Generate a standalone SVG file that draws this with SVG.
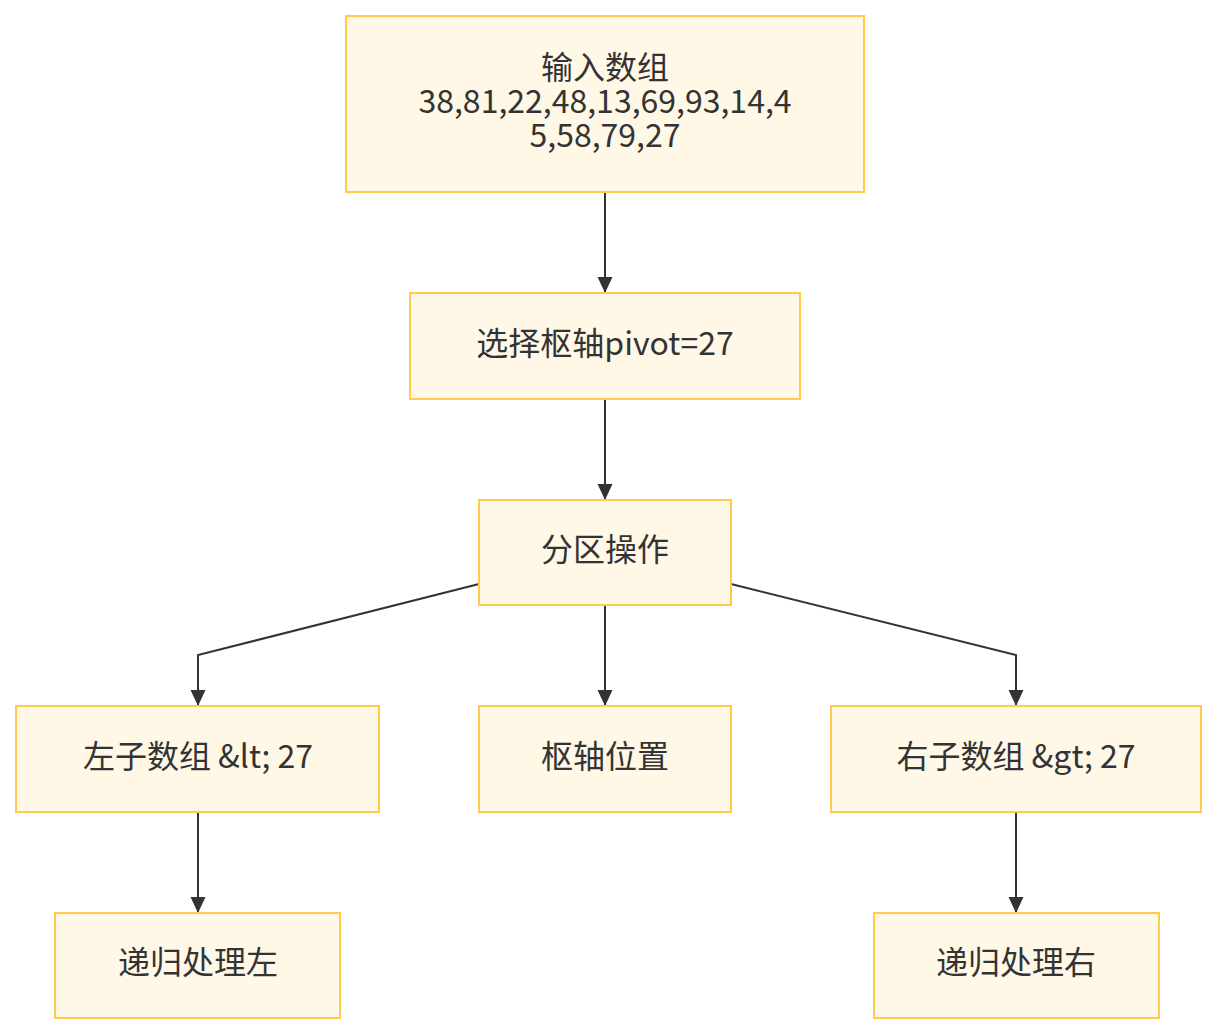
<svg xmlns="http://www.w3.org/2000/svg" width="1218" height="1036" viewBox="0 0 1218 1036">
<style>
.n rect{fill:#fff8e6;stroke:#ffcb4c;stroke-width:2}
.n text{font-family:"Noto Sans CJK SC","Noto Sans",sans-serif;font-size:32px;fill:#333;text-anchor:middle;dominant-baseline:central}
.e path{fill:none;stroke:#333;stroke-width:2}
</style>
<defs>
<marker id="a" viewBox="0 0 16 16" refX="16" refY="8" markerWidth="16" markerHeight="16" markerUnits="userSpaceOnUse" orient="auto">
<path d="M0,0.5 L16,8 L0,15.5 z" fill="#333"/>
</marker>
</defs>
<g class="e">
<path d="M605,193 L605,293" marker-end="url(#a)"/>
<path d="M605,400 L605,500" marker-end="url(#a)"/>
<path d="M479,584 L198,655 L198,706" marker-end="url(#a)"/>
<path d="M605,606 L605,706" marker-end="url(#a)"/>
<path d="M731,584 L1016,655 L1016,706" marker-end="url(#a)"/>
<path d="M198,813 L198,913" marker-end="url(#a)"/>
<path d="M1016,813 L1016,913" marker-end="url(#a)"/>
</g>
<g class="n" id="n1"><rect x="346" y="16" width="518" height="176"/><text x="605" y="65">输入数组</text><text x="605" y="99">38,81,22,48,13,69,93,14,4</text><text x="605" y="133">5,58,79,27</text></g>
<g class="n" id="n2"><rect x="410" y="293" width="390" height="106"/><text x="605" y="341">选择枢轴pivot=27</text></g>
<g class="n" id="n3"><rect x="479" y="500" width="252" height="105"/><text x="605" y="547">分区操作</text></g>
<g class="n" id="n4"><rect x="16" y="706" width="363" height="106"/><text x="198" y="754">左子数组 &amp;lt; 27</text></g>
<g class="n" id="n5"><rect x="479" y="706" width="252" height="106"/><text x="605" y="754">枢轴位置</text></g>
<g class="n" id="n6"><rect x="831" y="706" width="370" height="106"/><text x="1016" y="754">右子数组 &amp;gt; 27</text></g>
<g class="n" id="n7"><rect x="55" y="913" width="285" height="105"/><text x="198" y="960">递归处理左</text></g>
<g class="n" id="n8"><rect x="874" y="913" width="285" height="105"/><text x="1016" y="960">递归处理右</text></g>
</svg>
